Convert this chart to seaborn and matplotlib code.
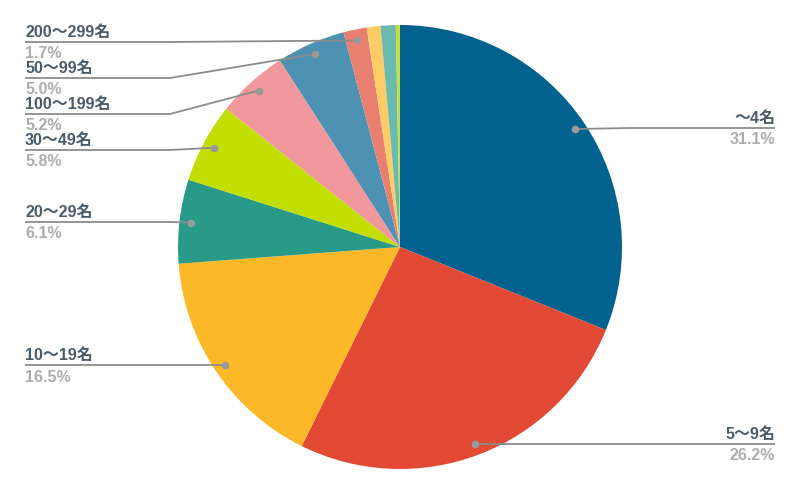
import matplotlib
matplotlib.use("Agg")
import matplotlib.pyplot as plt
import seaborn as sns
import numpy as np

categories = ["～4名", "5～9名", "10～19名", "20～29名", "30～49名",
              "100～199名", "50～99名", "200～299名", "300～499名", "500～999名", "1000名～"]
values = [31.1, 26.2, 16.5, 6.1, 5.8, 5.2, 5.0, 1.7, 1.0, 1.1, 0.3]
pct_labels = ["31.1%", "26.2%", "16.5%", "6.1%", "5.8%", "5.2%", "5.0%", "1.7%", None, None, None]
colors = ["#01628F", "#E24A35", "#FDB827", "#2A9A88", "#C2DE00",
          "#F2979B", "#4D91B3", "#E9806F", "#FFCC66", "#6BBAB0", "#C8DC3C"]

# layout: label line y (pixels from top) and side
label_line_y = [128, 444, 365, 222, 150, 114, 78, 42, None, None, None]
label_side = ["R", "R", "L", "L", "L", "L", "L", "L", None, None, None]

sns.set_theme(style="white")
plt.rcParams['font.family'] = ['Liberation Sans', 'Noto Sans CJK JP', 'DejaVu Sans']

W, H = 800, 495
fig = plt.figure(figsize=(8, 4.95), dpi=100)
ax = fig.add_axes([0, 0, 1, 1])

cx, cy, R = 400, H - 247, 222
wedges, _ = ax.pie(values, colors=colors, startangle=90, counterclock=False,
                   center=(cx, cy), radius=R, frame=True,
                   wedgeprops=dict(linewidth=0))
ax.set_xlim(0, W)
ax.set_ylim(0, H)
ax.set_aspect('equal')
ax.axis('off')

name_color = "#4A5B6A"
pct_color = "#ADADAD"
line_color = "#8C8C8C"
fs = 11.5
for w, name, pct, ly, side in zip(wedges, categories, pct_labels, label_line_y, label_side):
    if pct is None:
        continue
    mid = np.deg2rad((w.theta1 + w.theta2) / 2)
    dx = cx + 0.95 * R * np.cos(mid)
    dy = cy + 0.95 * R * np.sin(mid)
    y = H - ly
    if side == "L":
        bx, ex, ha = 170, 25, "left"
    else:
        bx, ex, ha = 630, 775, "right"
    ax.plot([dx, bx, ex], [dy, y, y], color=line_color, lw=1.3, zorder=3,
            solid_capstyle='butt')
    ax.plot([dx], [dy], 'o', color="#999999", ms=4.5, zorder=4)
    ax.text(ex, y + 5, name, ha=ha, va='baseline', fontsize=fs,
            fontweight='bold', color=name_color)
    ax.text(ex, y - 16.5, pct, ha=ha, va='baseline', fontsize=fs,
            fontweight='bold', color=pct_color)

fig.savefig("out.png", dpi=100, facecolor="white")
